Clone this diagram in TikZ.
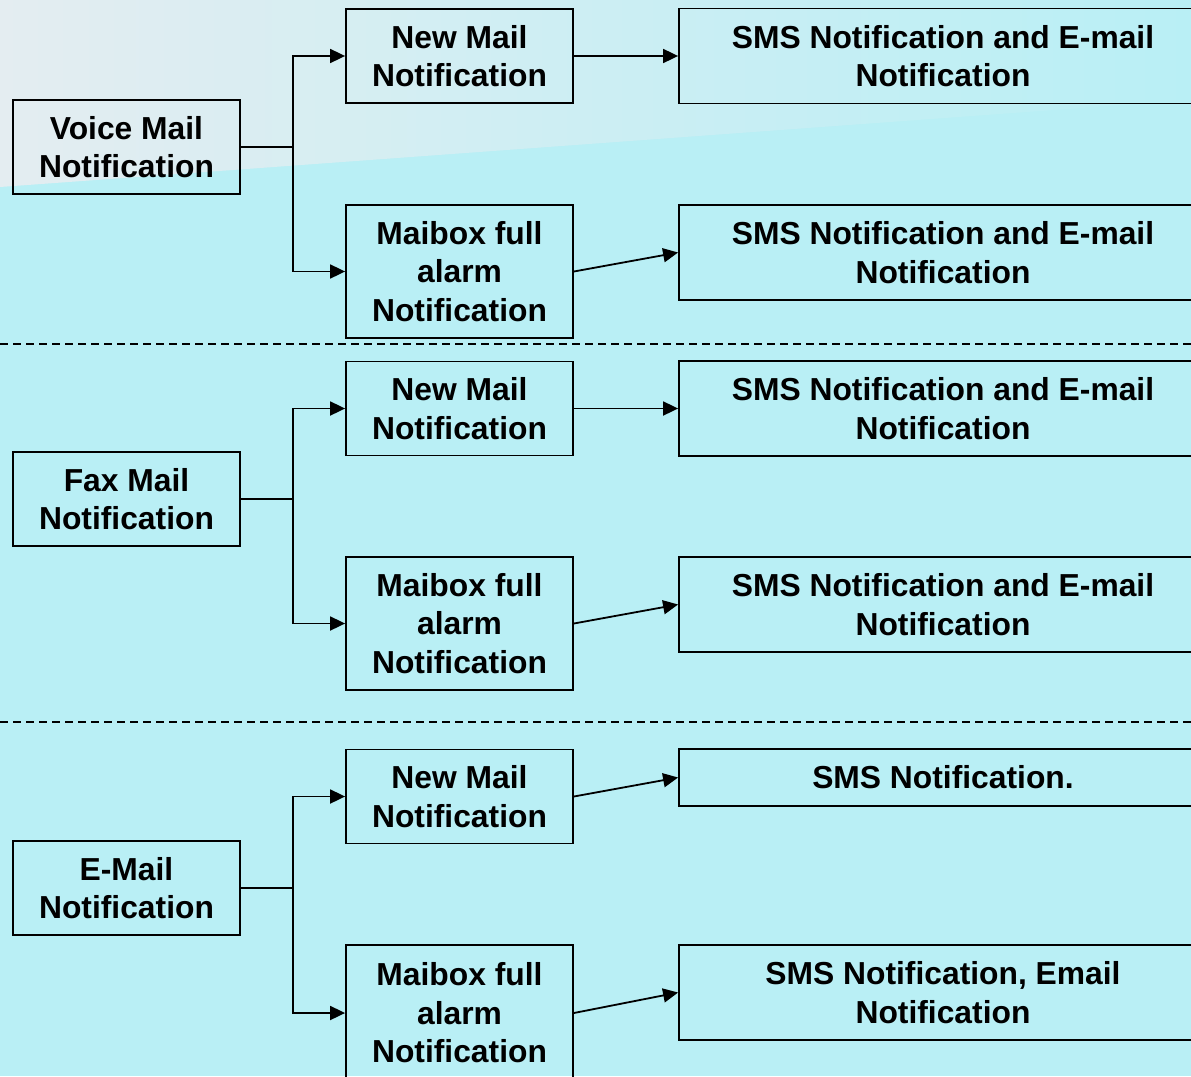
\documentclass[tikz,border=0pt]{standalone}
\usepackage{fontspec}
\setmainfont{Liberation Sans}
\usetikzlibrary{arrows.meta}
\definecolor{bgbase}{HTML}{B9EFF5}
\definecolor{bglight}{HTML}{E4EDF1}
\tikzset{
  box/.style={draw=black, line width=1.8pt, align=center, inner sep=0pt,
    font=\fontsize{31.8}{38.4}\selectfont\bfseries},
  leftbox/.style={box, minimum width=227pt, minimum height=94pt},
  midbox/.style={box, minimum width=227pt, minimum height=94pt},
  tallbox/.style={box, minimum width=227pt, minimum height=133pt},
  rightbox/.style={box, minimum width=528pt, minimum height=95pt},
  conn/.style={line width=1.8pt, draw=black},
  arr/.style={conn, -{Triangle[length=15pt,width=14pt]}},
  sep/.style={line width=1.5pt, dash pattern=on 8pt off 5pt}
}
\begin{document}
\begin{tikzpicture}[x=1pt,y=-1pt]
\useasboundingbox (0,0) rectangle (1191,1076);
% background
\fill[bgbase] (0,0) rectangle (1191,1076);
\shade[left color=bglight, right color=bgbase, middle color=bglight!45!bgbase]
  (0,0) -- (1191,0) -- (1191,100) -- (0,187) -- cycle;

% separators
\coordinate (s1a) at (0,344);  \coordinate (s1b) at (1191,344);
\coordinate (s2a) at (0,722);  \coordinate (s2b) at (1191,722);
\draw[sep] (s1a) -- (s1b);
\draw[sep] (s2a) -- (s2b);

% group 1
\node[leftbox] (L1) at (126.5,147) {Voice Mail\\Notification};
\node[midbox]  (M1) at (459.5,56) {New Mail\\Notification};
\node[tallbox] (M2) at (459.5,271.5) {Maibox full\\alarm\\Notification};
\node[rightbox] (R1) at (943,56) {SMS Notification and E-mail\\Notification};
\node[rightbox] (R2) at (943,252.5) {SMS Notification and E-mail\\Notification};

% group 2
\node[leftbox] (L2) at (126.5,499) {Fax Mail\\Notification};
\node[midbox]  (M3) at (459.5,408.5) {New Mail\\Notification};
\node[tallbox] (M4) at (459.5,623.5) {Maibox full\\alarm\\Notification};
\node[rightbox] (R3) at (943,408.5) {SMS Notification and E-mail\\Notification};
\node[rightbox] (R4) at (943,604.5) {SMS Notification and E-mail\\Notification};

% group 3
\node[leftbox] (L3) at (126.5,888) {E-Mail\\Notification};
\node[midbox]  (M5) at (459.5,796.5) {New Mail\\Notification};
\node[box, minimum width=227pt, minimum height=136pt] (M6) at (459.5,1013) {Maibox full\\alarm\\Notification};
\node[box, minimum width=528pt, minimum height=57pt] (R5) at (943,777.5) {SMS Notification.};
\node[rightbox] (R6) at (943,992.5) {SMS Notification, Email\\Notification};

% junctions
\coordinate (J1) at (293,147);
\coordinate (J2) at (293,499);
\coordinate (J3) at (293,888);

\draw[conn] (L1.east) -- (J1);
\draw[arr] (J1) |- (M1.west);
\draw[arr] (J1) |- (M2.west);
\draw[arr] (M1.east) -- (R1.west);
\draw[arr] (M2.east) -- (R2.west);

\draw[conn] (L2.east) -- (J2);
\draw[arr] (J2) |- (M3.west);
\draw[arr] (J2) |- (M4.west);
\draw[arr] (M3.east) -- (R3.west);
\draw[arr] (M4.east) -- (R4.west);

\draw[conn] (L3.east) -- (J3);
\draw[arr] (J3) |- (M5.west);
\draw[arr] (J3) |- (M6.west);
\draw[arr] (M5.east) -- (R5.west);
\draw[arr] (M6.east) -- (R6.west);
\end{tikzpicture}
\end{document}
